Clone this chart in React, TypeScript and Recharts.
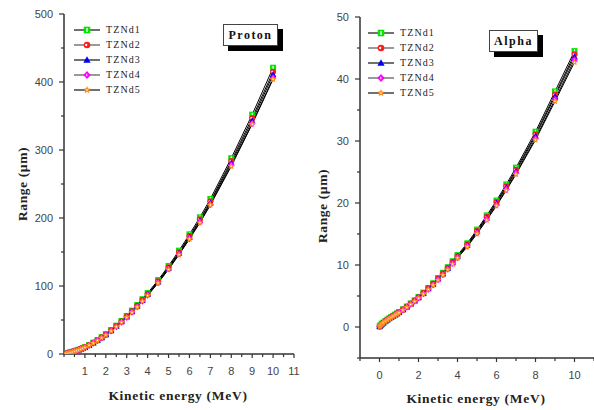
import { LineChart, Line, XAxis, YAxis, Legend } from 'recharts';

// proton: kinetic energy (MeV) vs projected range (µm)
const protonEnergy = [0.1, 0.2, 0.3, 0.4, 0.5, 0.6, 0.7, 0.8, 0.9, 1.0, 1.2, 1.4, 1.6, 1.8, 2.0, 2.25, 2.5, 2.75, 3.0, 3.25, 3.5, 3.75, 4.0, 4.5, 5.0, 5.5, 6.0, 6.5, 7.0, 8.0, 9.0, 10.0];
const protonD1 = [0.9, 1.6, 2.4, 3.2, 4.1, 5.1, 6.2, 7.4, 8.7, 10.1, 13.2, 16.7, 20.5, 24.7, 29.2, 35.2, 41.7, 48.6, 56.0, 63.8, 72.0, 80.6, 89.6, 108.7, 129.5, 152, 176, 201, 228, 288, 352, 421];
const protonD2 = [0.9, 1.6, 2.4, 3.2, 4.0, 5.0, 6.1, 7.3, 8.6, 9.9, 13.0, 16.4, 20.2, 24.3, 28.7, 34.7, 41.1, 47.9, 55.2, 62.8, 70.9, 79.4, 88.3, 107.1, 127.6, 149.7, 173.4, 198, 224.6, 284, 347, 415];
const protonD3 = [0.9, 1.6, 2.3, 3.1, 4.0, 5.0, 6.0, 7.2, 8.5, 9.8, 12.9, 16.3, 20.0, 24.1, 28.5, 34.3, 40.7, 47.4, 54.6, 62.2, 70.2, 78.6, 87.4, 106, 126.3, 148.2, 171.6, 196, 222.3, 281, 343, 411];
const protonD4 = [0.9, 1.5, 2.3, 3.1, 3.9, 4.9, 6.0, 7.1, 8.4, 9.7, 12.7, 16.1, 19.8, 23.8, 28.2, 34, 40.2, 46.9, 54, 61.6, 69.5, 77.8, 86.5, 104.9, 125, 146.7, 169.8, 194, 220, 278, 339, 406];
const protonD5 = [0.9, 1.5, 2.3, 3.1, 3.9, 4.9, 5.9, 7.1, 8.3, 9.7, 12.7, 16.0, 19.7, 23.7, 28.0, 33.8, 40.0, 46.7, 53.8, 61.2, 69.1, 77.4, 86, 104.4, 124.3, 146, 169, 193, 219, 276, 338, 404];

// alpha
const alphaEnergy = [0.01, 0.05, 0.1, 0.15, 0.2, 0.3, 0.4, 0.5, 0.6, 0.7, 0.8, 0.9, 1.0, 1.2, 1.4, 1.6, 1.8, 2.0, 2.25, 2.5, 2.75, 3.0, 3.25, 3.5, 3.75, 4.0, 4.5, 5.0, 5.5, 6.0, 6.5, 7.0, 8.0, 9.0, 10.0];
const alphaD1 = [0.08, 0.25, 0.42, 0.57, 0.7, 0.95, 1.18, 1.4, 1.6, 1.8, 2.0, 2.2, 2.4, 2.85, 3.3, 3.8, 4.3, 4.85, 5.55, 6.3, 7.05, 7.9, 8.75, 9.65, 10.6, 11.6, 13.5, 15.7, 18.0, 20.4, 23.0, 25.7, 31.5, 38.0, 44.5];
const alphaD2 = [0.08, 0.25, 0.41, 0.56, 0.69, 0.94, 1.16, 1.38, 1.58, 1.78, 1.98, 2.17, 2.37, 2.81, 3.26, 3.75, 4.25, 4.79, 5.48, 6.22, 6.96, 7.8, 8.64, 9.53, 10.47, 11.46, 13.33, 15.5, 17.78, 20.15, 22.72, 25.38, 31.1, 37.5, 44.0];
const alphaD3 = [0.08, 0.24, 0.41, 0.56, 0.68, 0.93, 1.15, 1.37, 1.56, 1.76, 1.96, 2.15, 2.35, 2.79, 3.23, 3.72, 4.2, 4.74, 5.43, 6.16, 6.9, 7.73, 8.56, 9.44, 10.37, 11.35, 13.2, 15.36, 17.6, 19.95, 22.5, 25.13, 30.8, 37.2, 43.6];
const alphaD4 = [0.08, 0.24, 0.4, 0.55, 0.68, 0.92, 1.14, 1.35, 1.55, 1.74, 1.93, 2.12, 2.32, 2.75, 3.19, 3.67, 4.15, 4.68, 5.36, 6.08, 6.81, 7.63, 8.45, 9.32, 10.24, 11.2, 13.04, 15.17, 17.39, 19.7, 22.2, 24.82, 30.4, 36.7, 43.1];
const alphaD5 = [0.08, 0.24, 0.4, 0.55, 0.67, 0.91, 1.13, 1.34, 1.53, 1.72, 1.92, 2.11, 2.3, 2.73, 3.16, 3.64, 4.12, 4.65, 5.32, 6.04, 6.76, 7.57, 8.38, 9.25, 10.16, 11.11, 12.94, 15.05, 17.25, 19.55, 22.03, 24.63, 30.18, 36.4, 42.7];

// ticks (all) and the ones that carry a label
const protonXTicks = [0, 0.5, 1, 1.5, 2, 2.5, 3, 3.5, 4, 4.5, 5, 5.5, 6, 6.5, 7, 7.5, 8, 8.5, 9, 9.5, 10, 10.5, 11];
const protonXLabels = [1, 2, 3, 4, 5, 6, 7, 8, 9, 10, 11];
const protonYTicks = [0, 50, 100, 150, 200, 250, 300, 350, 400, 450, 500];
const protonYLabels = [0, 100, 200, 300, 400, 500];
const alphaXTicks = [-1, 0, 1, 2, 3, 4, 5, 6, 7, 8, 9, 10, 11];
const alphaXLabels = [0, 2, 4, 6, 8, 10];
const alphaYTicks = [-5, 0, 5, 10, 15, 20, 25, 30, 35, 40, 45, 50];
const alphaYLabels = [0, 10, 20, 30, 40, 50];

const series = [
  { key: 'd1', name: 'TZNd1', color: '#00e600', shape: 'square', legendLine: '#111' },
  { key: 'd2', name: 'TZNd2', color: '#ff1a1a', shape: 'circle', legendLine: '#555' },
  { key: 'd3', name: 'TZNd3', color: '#0000ff', shape: 'triangle', legendLine: '#111' },
  { key: 'd4', name: 'TZNd4', color: '#ff00ff', shape: 'diamond', legendLine: '#555' },
  { key: 'd5', name: 'TZNd5', color: '#ff8c1a', shape: 'star', legendLine: '#111' },
];

const buildRows = (energy: number[], cols: number[][]) =>
  energy.map((e, i) => ({ e, d1: cols[0][i], d2: cols[1][i], d3: cols[2][i], d4: cols[3][i], d5: cols[4][i] }));

const protonRows = buildRows(protonEnergy, [protonD1, protonD2, protonD3, protonD4, protonD5]);
const alphaRows = buildRows(alphaEnergy, [alphaD1, alphaD2, alphaD3, alphaD4, alphaD5]);

const AXIS = '#333';
const TICK_FONT = 'Arial, "Liberation Sans", sans-serif';
const SERIF = '"Times New Roman", "Liberation Serif", serif';

const Marker = ({ cx, cy, shape, color, r }: any) => {
  if (cx == null || cy == null) return null;
  switch (shape) {
    case 'square':
      return (
        <g>
          <rect x={cx - r} y={cy - r} width={2 * r} height={2 * r} fill={color} />
          <rect x={cx - r * 0.2} y={cy - r * 0.6} width={r * 0.4} height={r * 1.2} fill="#fff" />
        </g>
      );
    case 'circle':
      return (
        <g>
          <circle cx={cx} cy={cy} r={r} fill={color} />
          <circle cx={cx - r * 0.25} cy={cy} r={r * 0.35} fill="#fff" />
        </g>
      );
    case 'triangle':
      return (
        <polygon
          points={`${cx},${cy - r * 1.15} ${cx + r * 1.1},${cy + r * 0.85} ${cx - r * 1.1},${cy + r * 0.85}`}
          fill={color}
        />
      );
    case 'diamond':
      return (
        <g>
          <polygon points={`${cx},${cy - r * 1.2} ${cx + r * 1.1},${cy} ${cx},${cy + r * 1.2} ${cx - r * 1.1},${cy}`} fill={color} />
          <polygon points={`${cx - r * 0.2},${cy - r * 0.5} ${cx + r * 0.2},${cy} ${cx - r * 0.2},${cy + r * 0.5}`} fill="#fff" />
        </g>
      );
    default: {
      const pts: string[] = [];
      for (let k = 0; k < 10; k++) {
        const rad = k % 2 === 0 ? r * 1.25 : r * 0.55;
        const a = -Math.PI / 2 + (k * Math.PI) / 5;
        pts.push(`${cx + rad * Math.cos(a)},${cy + rad * Math.sin(a)}`);
      }
      return (
        <g>
          <polygon points={pts.join(' ')} fill={color} />
          <circle cx={cx} cy={cy} r={r * 0.25} fill="#fff" />
        </g>
      );
    }
  }
};

const makeDot = (s: any) => (props: any) => (
  <Marker key={`${s.key}-${props.index}`} cx={props.cx} cy={props.cy} shape={s.shape} color={s.color} r={3} />
);

const makeXTick = (labels: number[]) => (props: any) => {
  const { x, y, payload } = props;
  const labelled = labels.includes(payload.value);
  return (
    <g>
      <line x1={x} y1={y} x2={x} y2={y + (labelled ? 4 : 3)} stroke={AXIS} strokeWidth={1.2} />
      {labelled && (
        <text x={x} y={y + 21} textAnchor="middle" fontSize={11} fill="#444" fontFamily={TICK_FONT}>
          {payload.value}
        </text>
      )}
    </g>
  );
};

const makeYTick = (labels: number[]) => (props: any) => {
  const { x, y, payload } = props;
  const labelled = labels.includes(payload.value);
  return (
    <g>
      <line x1={x} y1={y} x2={x - (labelled ? 5 : 3)} y2={y} stroke={AXIS} strokeWidth={1.2} />
      {labelled && (
        <text x={x - 11} y={y} dy="0.36em" textAnchor="end" fontSize={11} fill="#444" fontFamily={TICK_FONT}>
          {payload.value}
        </text>
      )}
    </g>
  );
};

const CustomLegend = (props: any) => {
  const { payload } = props;
  return (
    <div style={{ fontFamily: SERIF, fontSize: 10, color: '#222', letterSpacing: 1.1 }}>
      {(payload || []).map((entry: any, index: number) => {
        const s = series.find((v) => v.name === entry.value) || series[index];
        return (
          <div key={`item-${index}`} style={{ display: 'flex', alignItems: 'center', height: 15 }}>
            <svg width={30} height={14}>
              <line x1={0} y1={7} x2={26} y2={7} stroke={s.legendLine} strokeWidth={1.2} />
              <Marker cx={13} cy={7} shape={s.shape} color={s.color} r={3.3} />
            </svg>
            <span style={{ marginLeft: 2 }}>{entry.value}</span>
          </div>
        );
      })}
    </div>
  );
};

interface PanelProps {
  rows: any[];
  width: number;
  margin: { top: number; right: number; bottom: number; left: number };
  yAxisWidth: number;
  xAxisHeight: number;
  xDomain: [number, number];
  xTicks: number[];
  xLabels: number[];
  yDomain: [number, number];
  yTicks: number[];
  yLabels: number[];
  legendPos: { left: number; top: number };
  yTitleY: number;
  xTitleDy: number;
}

const RangePanel = (p: PanelProps) => (
  <LineChart width={p.width} height={410} data={p.rows} margin={p.margin}>
    <XAxis
      type="number"
      dataKey="e"
      domain={p.xDomain}
      ticks={p.xTicks}
      interval={0}
      tickSize={0}
      tickMargin={0}
      tickLine={false}
      tick={makeXTick(p.xLabels)}
      axisLine={{ stroke: AXIS, strokeWidth: 1.5 }}
      height={p.xAxisHeight}
      allowDataOverflow
      label={(lp: any) => {
        const vb = lp.viewBox || {};
        return (
          <text
            x={vb.x + vb.width / 2 - 1}
            y={vb.y + p.xTitleDy}
            textAnchor="middle"
            fontFamily={SERIF}
            fontWeight="bold"
            fontSize={13.5}
            letterSpacing={0.7}
            fill="#222"
          >
            Kinetic energy (MeV)
          </text>
        );
      }}
    />
    <YAxis
      type="number"
      domain={p.yDomain}
      ticks={p.yTicks}
      interval={0}
      tickSize={0}
      tickMargin={0}
      tickLine={false}
      tick={makeYTick(p.yLabels)}
      axisLine={{ stroke: AXIS, strokeWidth: 1.5 }}
      width={p.yAxisWidth}
      allowDataOverflow
      label={(lp: any) => {
        const vb = lp.viewBox || {};
        const x = (vb.x || 0) + 22;
        return (
          <text
            x={x}
            y={p.yTitleY}
            transform={`rotate(-90, ${x}, ${p.yTitleY})`}
            textAnchor="middle"
            dominantBaseline="central"
            fontFamily={SERIF}
            fontWeight="bold"
            fontSize={13.5}
            letterSpacing={0.6}
            fill="#222"
          >
            Range (µm)
          </text>
        );
      }}
    />
    <Legend
      layout="vertical"
      align="center"
      verticalAlign="middle"
      content={<CustomLegend />}
      wrapperStyle={{ left: p.legendPos.left, top: p.legendPos.top, width: 90 }}
    />
    {series.map((s) => (
      <Line
        key={s.key}
        type="linear"
        dataKey={s.key}
        name={s.name}
        stroke="#000"
        strokeWidth={1}
        dot={makeDot(s)}
        activeDot={false}
        isAnimationActive={false}
      />
    ))}
  </LineChart>
);

const TitleBox = ({ text, left, top, width }: { text: string; left: number; top: number; width: number }) => (
  <div
    style={{
      position: 'absolute',
      left,
      top,
      width,
      height: 22,
      boxSizing: 'border-box',
      border: '1px solid #444',
      background: '#fff',
      boxShadow: '5px 5px 0 #000',
      fontFamily: SERIF,
      fontWeight: 'bold',
      fontSize: 12,
      letterSpacing: 1.5,
      display: 'flex',
      alignItems: 'center',
      justifyContent: 'center',
      color: '#111',
    }}
  >
    {text}
  </div>
);

export default function App() {
  return (
    <div style={{ position: 'absolute', left: 0, top: 0, width: 594, height: 410, background: '#fff', overflow: 'hidden' }}>
      <div style={{ position: 'absolute', left: 0, top: 0 }}>
        <RangePanel
          rows={protonRows}
          width={300}
          margin={{ top: 14, right: 6, bottom: 6, left: 0 }}
          yAxisWidth={64}
          xAxisHeight={50}
          xDomain={[0, 11]}
          xTicks={protonXTicks}
          xLabels={protonXLabels}
          yDomain={[0, 500]}
          yTicks={protonYTicks}
          yLabels={protonYLabels}
          legendPos={{ left: 74, top: 22 }}
          yTitleY={184}
          xTitleDy={46}
        />
      </div>
      <div style={{ position: 'absolute', left: 300, top: 0 }}>
        <RangePanel
          rows={alphaRows}
          width={294}
          margin={{ top: 17, right: 0, bottom: 6, left: 0 }}
          yAxisWidth={60}
          xAxisHeight={46}
          xDomain={[-1, 11]}
          xTicks={alphaXTicks}
          xLabels={alphaXLabels}
          yDomain={[-5, 50]}
          yTicks={alphaYTicks}
          yLabels={alphaYLabels}
          legendPos={{ left: 68, top: 25 }}
          yTitleY={206}
          xTitleDy={45}
        />
      </div>
      <TitleBox text="Proton" left={223} top={24} width={55} />
      <TitleBox text="Alpha" left={489} top={30} width={49} />
    </div>
  );
}
